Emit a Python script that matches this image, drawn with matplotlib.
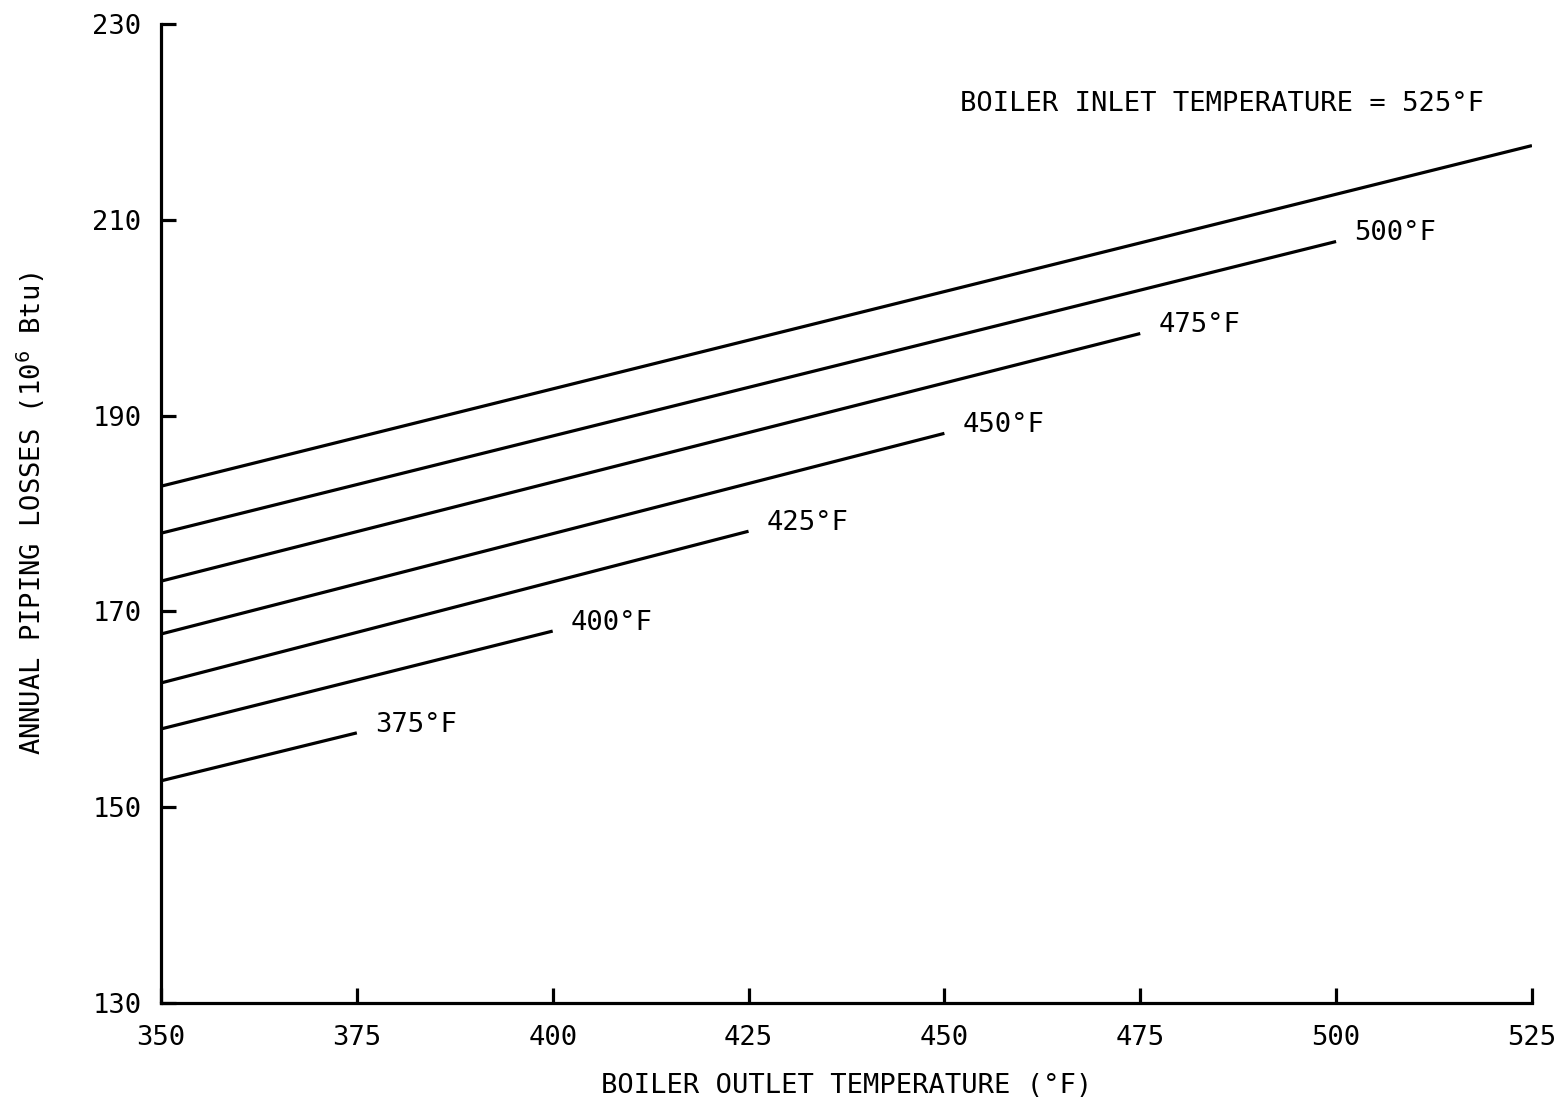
import matplotlib.pyplot as plt
import numpy as np

plt.rcParams['font.family'] = ['DejaVu Sans Mono', 'DejaVu Sans']

inlet = [375, 400, 425, 450, 475, 500, 525]
start_loss = [152.7, 158.0, 162.7, 167.7, 173.1, 178.0, 182.8]
end_loss = [157.6, 168.0, 178.2, 188.2, 198.4, 207.8, 217.6]
labels = ["375°F", "400°F", "425°F", "450°F", "475°F", "500°F", "BOILER INLET TEMPERATURE = 525°F"]

fig = plt.figure(figsize=(15.54, 11.01), dpi=100)
ax = fig.add_axes([0.1036, 0.089, 0.8822, 0.889])

for t, s, e, lab in zip(inlet, start_loss, end_loss, labels):
    ax.plot([350, t], [s, e], color='black', lw=2.3, solid_capstyle='butt')
    if t < 525:
        ax.annotate(lab, (t, e), xytext=(13, 6), textcoords='offset points',
                    fontsize=19.5, va='center', ha='left')
    else:
        # the top curve is labelled by the header text
        ax.text(452, 221.9, lab, fontsize=19.5, va='center', ha='left')

ax.set_xlim(350, 525)
ax.set_ylim(130, 230)
ax.set_xticks([350, 375, 400, 425, 450, 475, 500, 525])
ax.set_yticks([130, 150, 170, 190, 210, 230])
ax.spines['top'].set_visible(False)
ax.spines['right'].set_visible(False)
for sp in ['left', 'bottom']:
    ax.spines[sp].set_linewidth(2.3)
ax.tick_params(direction='in', length=11, width=2.3, labelsize=19.5)
ax.tick_params(axis='x', pad=16)
ax.tick_params(axis='y', pad=14)
ax.set_xlabel('BOILER OUTLET TEMPERATURE (°F)', fontsize=19.5, labelpad=16)
ax.set_ylabel('ANNUAL PIPING LOSSES (10$^6$ Btu)', fontsize=19.5, labelpad=33)

fig.savefig('out.png', dpi=100)
